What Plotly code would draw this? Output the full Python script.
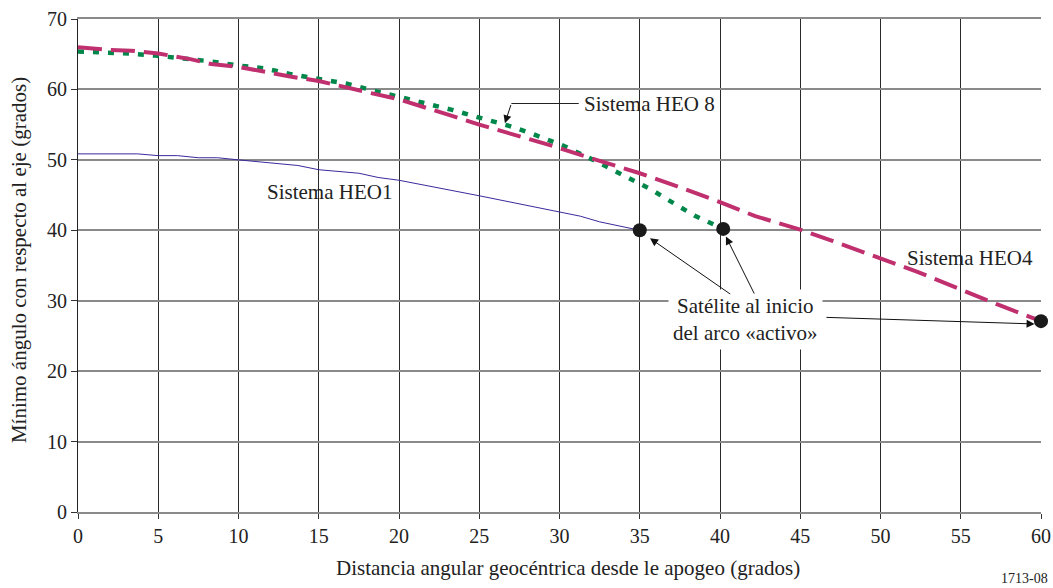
import plotly.graph_objects as go

# HEO1 (thin blue line)
heo1_x = [0, 3.7, 5, 6.2, 7.5, 8.7, 10, 13.7, 15, 17.5, 18.7, 20, 25, 30, 31.3, 32.5, 35]
heo1_y = [50.85, 50.85, 50.6, 50.6, 50.3, 50.3, 50.0, 49.2, 48.6, 48.1, 47.5, 47.1, 44.9, 42.6, 42.0, 41.2, 40.0]

# HEO4 (magenta long dashes)
heo4_x = [0, 2, 3.3, 5, 7, 8.3, 10, 12, 13.3, 15, 17, 18.4, 20, 22.25, 23.5, 25, 27.25,
          29.4, 32, 33.25, 35, 37.25, 40, 42.2, 45, 47, 50, 52.3, 55, 57.25, 60]
heo4_y = [66.0, 65.6, 65.5, 65.1, 64.3, 63.6, 63.2, 62.3, 61.8, 61.2, 60.1, 59.4, 58.6, 56.9, 56.1, 55.0, 53.5,
          52.1, 50.2, 49.3, 48.1, 46.3, 44.0, 42.0, 40.1, 38.5, 36.0, 34.1, 31.6, 29.5, 27.1]

# HEO8 (green short dashes)
heo8_x = [0, 1.6, 3.2, 4.85, 6.6, 8.2, 10, 11.6, 13.2, 15, 16.75, 18.3, 20, 21.7, 23.3, 25, 26.9,
          28.3, 30.25, 32.1, 33.2, 34.8, 35.7, 37, 38.4, 40.2]
heo8_y = [65.4, 65.3, 65.1, 64.8, 64.4, 64.0, 63.4, 63.0, 62.2, 61.5, 60.8, 59.9, 59.0, 58.0, 57.1, 56.0, 54.8,
          53.7, 52.0, 50.0, 48.7, 46.8, 45.8, 44.0, 42.1, 40.2]

# Start of the active arc
start_x = [35, 40.2, 60]
start_y = [40.0, 40.2, 27.1]

x_ticks = list(range(0, 61, 5))
y_ticks = list(range(0, 71, 10))

FONT = "Liberation Serif"

fig = go.Figure()
fig.add_trace(go.Scatter(x=heo1_x, y=heo1_y, mode="lines",
                         line=dict(color="#3b2a9c", width=1), showlegend=False))
fig.add_trace(go.Scatter(x=heo8_x, y=heo8_y, mode="lines",
                         line=dict(color="#00874a", width=4.5, dash="6px,9px"), showlegend=False))
fig.add_trace(go.Scatter(x=heo4_x, y=heo4_y, mode="lines",
                         line=dict(color="#c0306f", width=4, dash="24px,9px"), showlegend=False))
fig.add_trace(go.Scatter(x=start_x, y=start_y, mode="markers",
                         marker=dict(color="#1a1a1a", size=14), showlegend=False, cliponaxis=False))

txt = dict(family=FONT, size=21, color="#222222")

fig.add_annotation(x=15.7, y=45.5, text="Sistema HEO1", showarrow=False, font=txt)
fig.add_annotation(x=55.6, y=36.0, text="Sistema HEO4", showarrow=False, font=txt)
fig.add_annotation(x=31.4, y=58.0, text="Sistema HEO 8", showarrow=False, font=txt, xanchor="left")
fig.add_shape(type="line", x0=27.0, y0=58.0, x1=31.2, y1=58.0, line=dict(color="#222222", width=1))
fig.add_annotation(x=26.6, y=55.2, ax=27.0, ay=58.0, axref="x", ayref="y", text="",
                   showarrow=True, arrowhead=2, arrowsize=1.6, arrowwidth=1, arrowcolor="#111111")

fig.add_annotation(x=41.56, y=27.3, text="Satélite al inicio<br>del arco «activo»", showarrow=False,
                   font=txt, bgcolor="white", borderpad=4)
for (hx, hy, tx, ty) in [(35.64, 38.86, 40.73, 30.8), (40.37, 39.1, 42.18, 30.8), (59.6, 26.7, 46.54, 27.64)]:
    fig.add_annotation(x=hx, y=hy, ax=tx, ay=ty, axref="x", ayref="y", text="",
                       showarrow=True, arrowhead=2, arrowsize=1.6, arrowwidth=1, arrowcolor="#111111")

# axis titles
fig.add_annotation(x=0.509, y=0, xref="paper", yref="paper", yshift=-56, yanchor="middle",
                   text="Distancia angular geocéntrica desde le apogeo (grados)", showarrow=False, font=txt)
fig.add_annotation(x=0, y=0.511, xref="paper", yref="paper", xshift=-59, xanchor="center",
                   textangle=-90, text="Mínimo ángulo con respecto al eje (grados)", showarrow=False, font=txt)

fig.add_annotation(x=1.0, y=0, xref="paper", yref="paper", yshift=-66, xanchor="right", yanchor="middle",
                   xshift=9, text="1713-08", showarrow=False, font=dict(family=FONT, size=14, color="#222222"))

fig.update_layout(
    width=1053, height=588,
    margin=dict(l=78, r=12, t=19, b=76),
    paper_bgcolor="white", plot_bgcolor="white",
    font=dict(family=FONT, size=20, color="#222222"),
)
fig.update_xaxes(range=[0, 60], tickvals=x_ticks, ticktext=[str(v) for v in x_ticks],
                 showgrid=True, gridcolor="#2a2a2a", gridwidth=1,
                 showline=True, linecolor="#8a8a8a", linewidth=2, mirror=True,
                 ticks="outside", ticklen=5, tickcolor="#333333",
                 zeroline=False, automargin=False,
                 tickfont=dict(family=FONT, size=20))
fig.update_yaxes(range=[0, 70], tickvals=y_ticks, ticktext=[str(v) for v in y_ticks],
                 showgrid=True, gridcolor="#8a8a8a", gridwidth=2,
                 showline=True, linecolor="#222222", linewidth=1,
                 ticks="outside", ticklen=6, tickcolor="#333333",
                 zeroline=False, automargin=False,
                 tickfont=dict(family=FONT, size=20))

# remove the default page margin so the 1053x588 figure fills the window exactly
fig.write_html("out.html",
               config={"displayModeBar": False},
               post_script="document.documentElement.style.overflow='hidden';"
                           "document.body.style.margin='0';document.body.style.overflow='hidden';")
